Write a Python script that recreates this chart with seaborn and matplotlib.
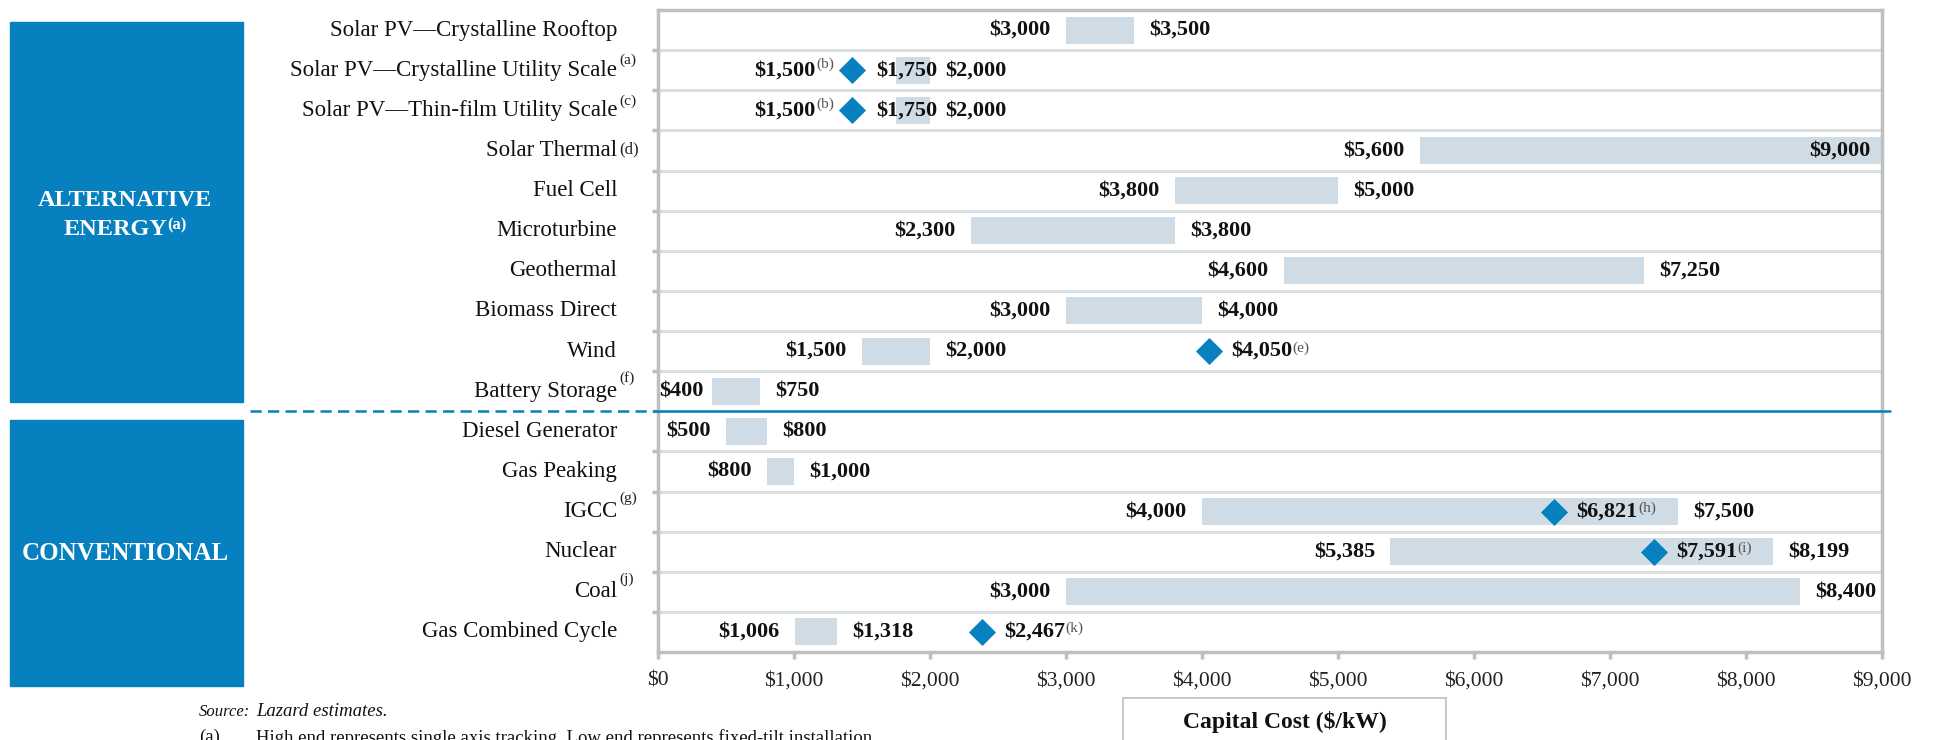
import numpy as np
import pandas as pd
import matplotlib
matplotlib.use("Agg")
import matplotlib.pyplot as plt
import matplotlib.transforms as mtransforms
from matplotlib.patches import Rectangle
from matplotlib.lines import Line2D
import seaborn as sns

# ---- data ----
techs = [
    "Solar PV\u2014Crystalline Rooftop",
    "Solar PV\u2014Crystalline Utility Scale",
    "Solar PV\u2014Thin-film Utility Scale",
    "Solar Thermal",
    "Fuel Cell",
    "Microturbine",
    "Geothermal",
    "Biomass Direct",
    "Wind",
    "Battery Storage",
    "Diesel Generator",
    "Gas Peaking",
    "IGCC",
    "Nuclear",
    "Coal",
    "Gas Combined Cycle",
]
tech_notes = ["", "(a)", "(c)", "(d)", "", "", "", "", "", "(f)", "", "", "(g)", "", "(j)", ""]
low_cost = [3000, 1750, 1750, 5600, 3800, 2300, 4600, 3000, 1500, 400, 500, 800, 4000, 5385, 3000, 1006]
high_cost = [3500, 2000, 2000, 9000, 5000, 3800, 7250, 4000, 2000, 750, 800, 1000, 7500, 8199, 8400, 1318]

marker_tech = [
    "Solar PV\u2014Crystalline Utility Scale",
    "Solar PV\u2014Thin-film Utility Scale",
    "Wind",
    "IGCC",
    "Nuclear",
    "Gas Combined Cycle",
]
marker_pos = [1430, 1430, 4050, 6590, 7320, 2380]
marker_label = ["$1,500", "$1,500", "$4,050", "$6,821", "$7,591", "$2,467"]
marker_note = ["(b)", "(b)", "(e)", "(h)", "(i)", "(k)"]
marker_side = ["left", "left", "right", "right", "right", "right"]

x_ticks = [0, 1000, 2000, 3000, 4000, 5000, 6000, 7000, 8000, 9000]

BLUE = "#0780bf"
BAR = "#cfdce6"
GRID = "#dcdfe0"
SPINE = "#bfbfbf"

sns.set_style("white")
plt.rcParams["font.family"] = ["Liberation Serif", "DejaVu Serif"]

W, H = 1935, 740
fig = plt.figure(figsize=(W / 100, H / 100), dpi=100)


def fx(px):
    return px / W


def fy(py):
    return 1 - py / H


ax = fig.add_axes([fx(658), fy(652), fx(1882) - fx(658), fy(10) - fy(652)])

df = pd.DataFrame({"row": range(len(techs)), "low": low_cost, "high": high_cost})
df["span"] = df["high"] - df["low"]

sns.barplot(data=df, x="span", y="row", orient="y", left=df["low"].to_numpy(),
            color=BAR, saturation=1, width=0.67, errorbar=None, linewidth=0,
            ax=ax, zorder=2)

mrow = [techs.index(t) for t in marker_tech]
sns.scatterplot(x=marker_pos, y=mrow, marker="D", s=190, color=BLUE, linewidth=0,
                ax=ax, zorder=4, legend=False)

ax.set_xlim(0, 9000)
ax.set_ylim(len(techs) - 0.5, -0.5)
ax.set_xlabel("")
ax.set_ylabel("")

# axis styling
ax.set_xticks(x_ticks)
ax.set_xticklabels([f"${v:,}" for v in x_ticks])
ax.set_yticks([])
ax.set_yticks(np.arange(0.5, len(techs) - 1, 1), minor=True)
ax.tick_params(axis="x", bottom=True, length=5, width=2.5, color=SPINE, pad=9,
               labelsize=15.5, labelcolor="#222222")
ax.tick_params(axis="y", which="minor", left=True, length=4, width=2.5, color=SPINE,
               direction="out")
ax.grid(True, which="minor", axis="y", color=GRID, lw=2.2)
ax.grid(False, which="major")
ax.set_axisbelow(True)
for sp in ax.spines.values():
    sp.set_visible(True)
    sp.set_color(SPINE)
    sp.set_linewidth(2.5)

# category labels
ytr = ax.get_yaxis_transform()
for i, (name, note) in enumerate(zip(techs, tech_notes)):
    lab = ax.annotate(name, xy=(0, i), xycoords=ytr, xytext=(-29.5, 0),
                      textcoords="offset points", ha="right", va="center",
                      fontsize=16.5, color="#111111")
    if note:
        if note == "(d)":
            frac, fs, va = 0.55, 12, "center"
        elif note in ("(f)", "(g)", "(j)"):
            frac, fs, va = 0.8, 11, "bottom"
        else:
            frac, fs, va = 0.95, 11, "center"
        ax.annotate(note, xy=(1, frac), xycoords=lab, xytext=(1.5, 0),
                    textcoords="offset points", ha="left", va=va,
                    fontsize=fs, color="#222222")

# value labels on bars
left_marker_rows = [r for r, s in zip(mrow, marker_side) if s == "left"]
for i, (lo, hi) in enumerate(zip(low_cost, high_cost)):
    kw = dict(textcoords="offset points", va="center", fontsize=16,
              fontweight="bold", color="#111111")
    if i in left_marker_rows:
        mp = marker_pos[mrow.index(i)]
        ax.annotate(f"${lo:,}", xy=(mp, i), xytext=(17, 0), ha="left", **kw)
    elif lo < 450:
        ax.annotate(f"${lo:,}", xy=(0, i), xytext=(1, 0), ha="left", **kw)
    else:
        ax.annotate(f"${lo:,}", xy=(lo, i), xytext=(-11, 0), ha="right", **kw)
    if hi >= 9000:
        ax.annotate(f"${hi:,}", xy=(hi, i), xytext=(-8, 0), ha="right", **kw)
    else:
        ax.annotate(f"${hi:,}", xy=(hi, i), xytext=(11, 0), ha="left", **kw)

# marker labels
for r, p, lab, note, side in zip(mrow, marker_pos, marker_label, marker_note, marker_side):
    kw = dict(textcoords="offset points", va="center", fontsize=16,
              fontweight="bold", color="#111111")
    if side == "right":
        t = ax.annotate(lab, xy=(p, r), xytext=(16, 0), ha="left", **kw)
        ax.annotate(note, xy=(1, 1), xycoords=t, xytext=(0.5, 0),
                    textcoords="offset points", ha="left", va="top",
                    fontsize=11, color="#555555")
    else:
        s = ax.annotate(note, xy=(p, r), xytext=(-13, 4), textcoords="offset points",
                        ha="right", va="center", fontsize=11, color="#555555")
        ax.annotate(lab, xy=(0, r), xycoords=(s, "data"), xytext=(-0.5, 0),
                    ha="right", **kw)

# separator line between the two groups
sep = mtransforms.blended_transform_factory(fig.transFigure, ax.transData)
fig.add_artist(Line2D([fx(250), fx(658)], [9.5, 9.5], transform=sep, color=BLUE,
                      lw=1.8, linestyle=(0, (4.5, 2.5)), zorder=5))
fig.add_artist(Line2D([fx(658), fx(1890)], [9.5, 9.5], transform=sep, color=BLUE,
                      lw=1.8, zorder=5))

# side panels
fig.add_artist(Rectangle((fx(10), fy(402)), fx(243) - fx(10), fy(22) - fy(402),
                         transform=fig.transFigure, color=BLUE, zorder=0))
fig.add_artist(Rectangle((fx(10), fy(686)), fx(243) - fx(10), fy(420) - fy(686),
                         transform=fig.transFigure, color=BLUE, zorder=0))
fig.text(fx(125), fy(201), "ALTERNATIVE", ha="center", va="center", color="white",
         fontsize=17.5, fontweight="bold")
en = fig.text(fx(115), fy(230), "ENERGY", ha="center", va="center", color="white",
              fontsize=17.5, fontweight="bold")
ax.annotate("(a)", xy=(1, 0.72), xycoords=en, xytext=(0.5, 0), textcoords="offset points",
            ha="left", va="center", color="white", fontsize=12, fontweight="bold",
            annotation_clip=False)
fig.text(fx(125), fy(553), "CONVENTIONAL", ha="center", va="center", color="white",
         fontsize=18, fontweight="bold")

# axis title box
fig.add_artist(Rectangle((fx(1123), fy(770)), fx(1446) - fx(1123), fy(698) - fy(770),
                         transform=fig.transFigure, facecolor="white", edgecolor=SPINE,
                         lw=1.2, zorder=1))
fig.text(fx(1285), fy(722), "Capital Cost ($/kW)", ha="center", va="center",
         fontsize=17, fontweight="bold", color="#111111", zorder=2)

# footnotes
fig.text(fx(199), fy(712), "Source:", ha="left", va="center", fontsize=12,
         style="italic", color="#111111")
fig.text(fx(256), fy(712), "Lazard estimates.", ha="left", va="center", fontsize=13.5,
         style="italic", color="#111111")
fig.text(fx(199), fy(729), "(a)", ha="left", va="top", fontsize=13.5, color="#111111")
fig.text(fx(256), fy(729),
         "High end represents single axis tracking. Low end represents fixed-tilt installation.",
         ha="left", va="top", fontsize=13.5, color="#111111")

fig.savefig("out.png", dpi=100)
